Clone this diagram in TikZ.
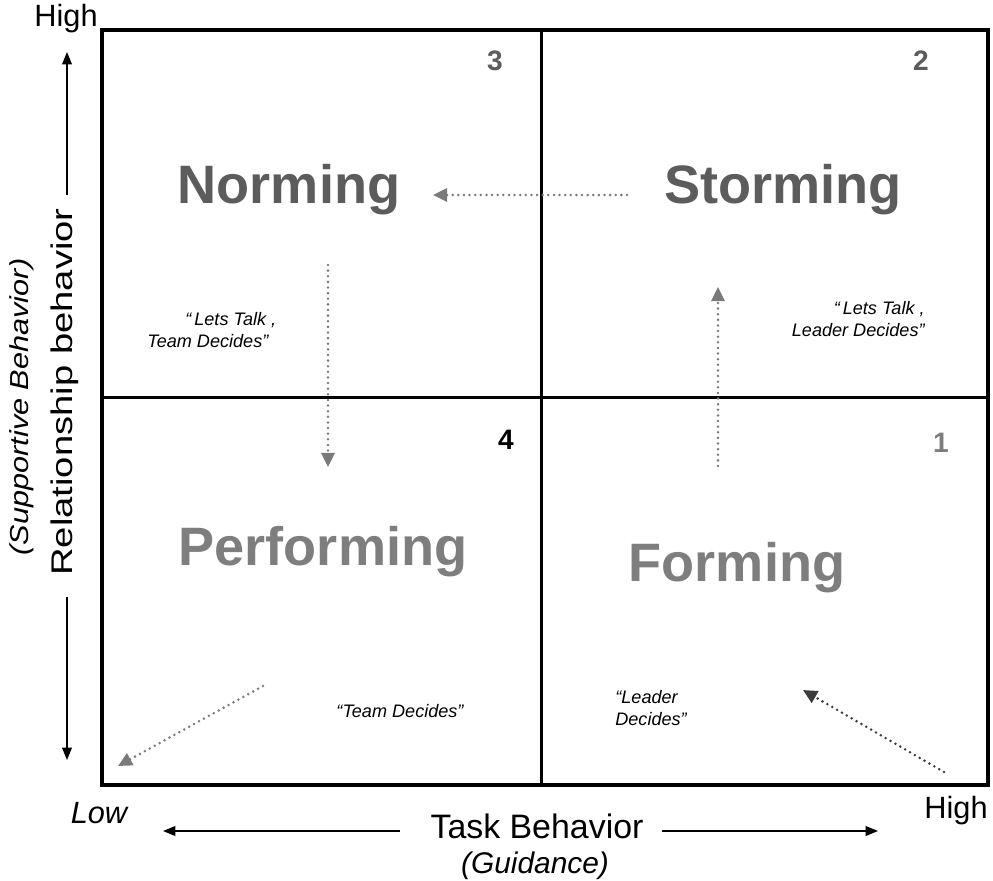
\documentclass[tikz,border=0pt]{standalone}
\usepackage{fontspec}
\setmainfont{Liberation Sans}
\usetikzlibrary{arrows.meta}
\definecolor{stagedark}{HTML}{5C5C5C}
\definecolor{stagelight}{HTML}{7E7E7E}
\definecolor{flowgray}{HTML}{7A7A7A}
\definecolor{flowdark}{HTML}{3C3C3C}

\begin{document}
\begin{tikzpicture}[x=0.02cm, y=-0.02cm]
            \tikzstyle{stage} = [font=\fontsize{30.8}{32}\selectfont\bfseries]
            \tikzstyle{quadnum} = [font=\fontsize{16}{18}\selectfont\bfseries]
            \tikzstyle{quote} = [font=\fontsize{10.3}{12.5}\selectfont\itshape, inner sep=0pt]
            \tikzstyle{axislabel} = [font=\fontsize{17.5}{20}\selectfont, inner sep=0pt]
            \tikzstyle{axis arrow} = [line width=0.9pt, -{Triangle[length=7pt, width=5.5pt]}]
            \tikzstyle{flow} = [flowgray, line width=1.6pt, line cap=round,
                dash pattern=on 0pt off 3.2pt, -{Triangle[length=8pt, width=7.5pt]}]
            \useasboundingbox (0, 0) rectangle (993, 880);
            % grid of quadrants
            \draw[line width=2.3pt] (102, 30) rectangle (988, 785);
            \draw[line width=1.7pt] (541, 30) -- (541, 785);
            \draw[line width=1.7pt] (102, 397) -- (988, 397);
            % stages
            \node[stage, stagedark] (norming) at (289, 190) {Norming};
            \node[stage, stagedark] (storming) at (783, 190) {Storming};
            \node[stage, stagelight] (performing) at (323, 552) {Performing};
            \node[stage, stagelight] (forming) at (737, 568) {Forming};
            \node[quadnum, stagedark] (n3) at (495, 61) {3};
            \node[quadnum, stagedark] (n2) at (921, 61) {2};
            \node[quadnum] (n4) at (506, 440) {4};
            \node[quadnum, stagelight] (n1) at (941, 443) {1};
            % quotes
            \node[quote, align=left, anchor=west] (qnorm) at (147, 330)
                {\hspace*{0.76cm}``\,Lets Talk ,\\Team Decides''};
            \node[quote, align=right, anchor=east] (qstorm) at (925, 319)
                {``\,Lets Talk ,\\Leader Decides''};
            \node[quote] (qperf) at (400, 711) {``Team Decides''};
            \node[quote, align=left, anchor=west] (qform) at (615, 708)
                {``Leader\\Decides''};
            % stage flow
            \coordinate (sA) at (627, 195);
            \coordinate (sB) at (433, 195);
            \coordinate (nA) at (328, 265);
            \coordinate (nB) at (328, 467);
            \coordinate (fA) at (718, 466);
            \coordinate (fB) at (718, 287);
            \coordinate (pA) at (263, 686);
            \coordinate (pB) at (118, 766);
            \coordinate (cA) at (944, 772);
            \coordinate (cB) at (803, 690);
            \draw[flow] (sA) -- (sB);
            \draw[flow] (nA) -- (nB);
            \draw[flow] (fA) -- (fB);
            \draw[flow] (pA) -- (pB);
            \draw[flow, flowdark] (cA) -- (cB);
            % axes
            \node[axislabel] (yhigh) at (66, 19) {High};
            \node[axislabel, font=\fontsize{17.5}{20}\selectfont\itshape] (xlow) at (99, 813) {Low};
            \node[axislabel] (xhigh) at (956, 811) {High};
            \node[axislabel, font=\fontsize{19.3}{22}\selectfont] (task) at (537, 826) {Task Behavior};
            \node[axislabel, font=\fontsize{17}{20}\selectfont\itshape] (guide) at (535, 866) {(Guidance)};
            \node[axislabel, font=\fontsize{17}{20}\selectfont, rotate=90, xscale=1.28, transform shape]
                (rel) at (65, 392) {Relationship behavior};
            \node[axislabel, font=\fontsize{14.8}{18}\selectfont\itshape, rotate=90, xscale=1.18, transform shape]
                (supp) at (22, 407) {(Supportive Behavior)};
            \coordinate (yA) at (67, 195);
            \coordinate (yB) at (67, 52);
            \coordinate (yC) at (67, 597);
            \coordinate (yD) at (67, 760);
            \coordinate (xA) at (400, 831);
            \coordinate (xB) at (163, 831);
            \coordinate (xC) at (662, 831);
            \coordinate (xD) at (878, 831);
            \draw[axis arrow] (yA) -- (yB);
            \draw[axis arrow] (yC) -- (yD);
            \draw[axis arrow] (xA) -- (xB);
            \draw[axis arrow] (xC) -- (xD);
        \end{tikzpicture}
\end{document}
